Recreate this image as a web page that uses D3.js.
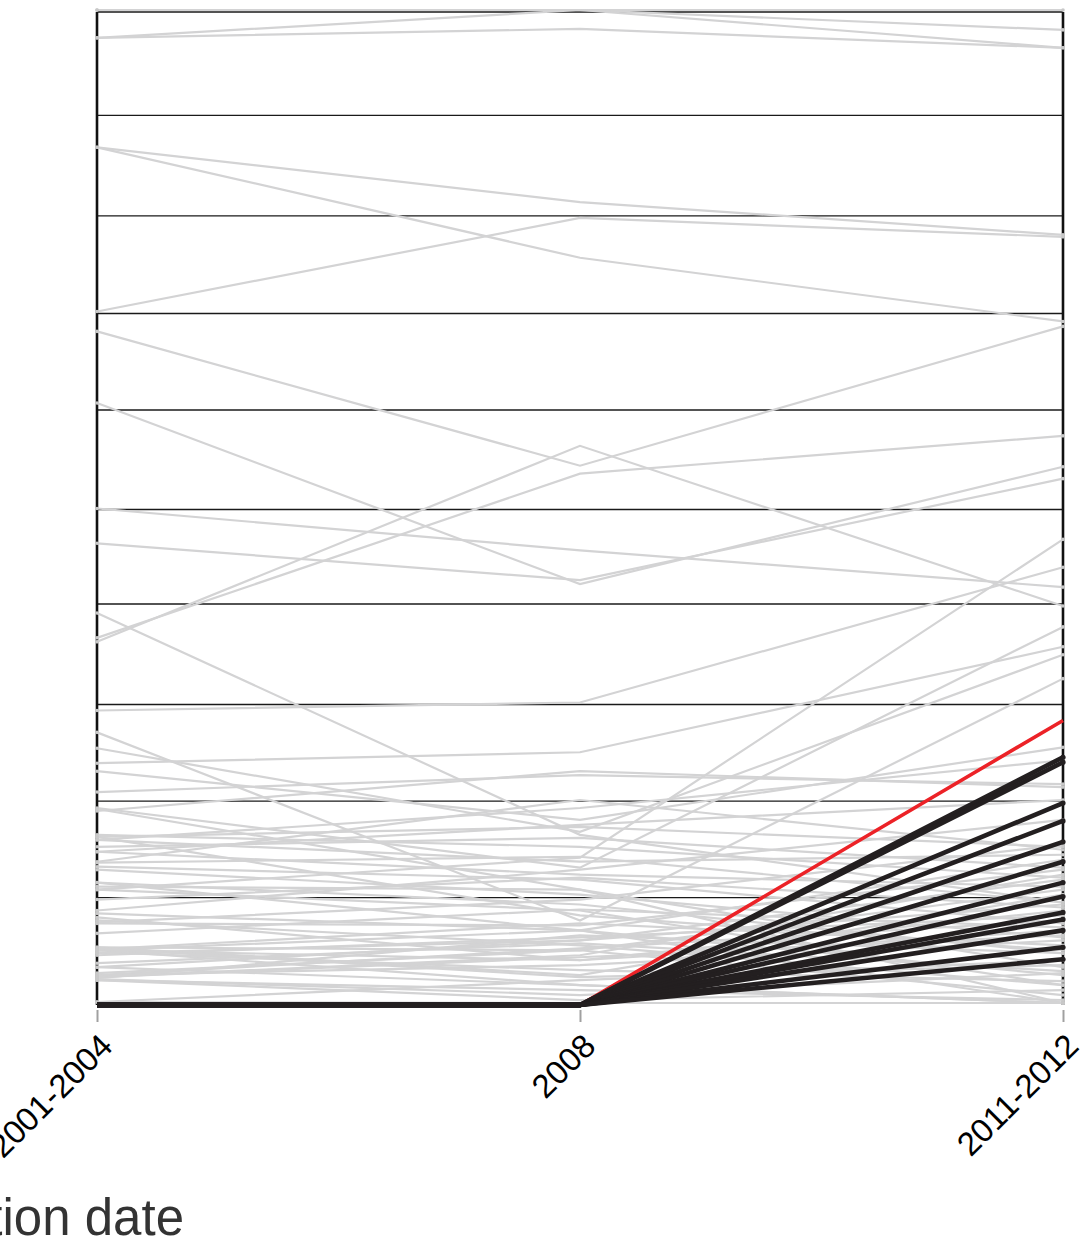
<!DOCTYPE html>
<html>
<head>
<meta charset="utf-8">
<script src="https://cdn.jsdelivr.net/npm/d3@7/dist/d3.min.js"></script>
<style>
  html, body { margin: 0; padding: 0; background: #fff; }
  svg { display: block; }
</style>
</head>
<body>
<div id="chart"></div>
<script>
// ---------- data ----------
const categories = ["2001-2004", "2008", "2011-2012"];
const axisTitle = "Publication date";
const gridValues = [10.8, 20.5, 30.2, 40.3, 49.8, 59.8, 69.5, 79.3, 89.4, 99.8];

// grey series: values at [2001-2004, 2008, 2011-2012]
const greyLines = [
  [100, 100, 100], [97.2, 100, 98.0], [100, 100, 96.2], [97.2, 98.1, 96.2],
  [86.2, 80.7, 77.4], [86.2, 75.1, 68.7], [69.7, 79.1, 77.2], [67.7, 54.2, 68.2],
  [60.5, 42.3, 54.1], [46.4, 42.7, 52.9], [49.9, 45.7, 42.0], [36.5, 56.2, 40.1],
  [36.9, 53.4, 57.2], [29.6, 30.4, 44.0], [39.4, 17.1, 10.3], [11.6, 14.8, 46.8],
  [24.3, 25.4, 36.0], [19.8, 13.8, 38.0], [27.4, 8.5, 32.8], [25.8, 17.4, 35.2],
  [23.5, 18.6, 25.9], [21.4, 23.1, 22.2], [19.5, 23.5, 21.9], [16.9, 17.9, 15.9],
  [16.6, 14.4, 15.1], [15.9, 16.8, 13.8], [15.4, 13.1, 11.9], [14.3, 14.9, 10.3],
  [13.9, 12.6, 8.2], [13.6, 11.1, 6.8], [12.3, 10.1, 5.2], [11.9, 11.6, 3.8],
  [11.6, 9.5, 2.0], [9.2, 7.5, 0.2], [8.5, 6.0, 2.0], [8.2, 8.0, 13.6],
  [5.8, 5.5, 11.6], [5.5, 4.5, 9.5], [5.2, 6.5, 12.6], [3.8, 2.0, 0.2],
  [3.0, 4.0, 6.5], [2.5, 1.5, 0.5], [0.3, 2.5, 4.5], [5.8, 3.0, 11.1],
  [5.5, 7.5, 14.6], [3.0, 5.7, 8.5], [2.5, 0.5, 1.5], [14.4, 20.6, 15.6],
  [12.3, 7.5, 3.0], [19.7, 11.6, 0.2], [16.9, 9.0, 5.5], [9.5, 13.6, 18.6],
  [8.8, 4.5, 7.5], [5.5, 2.0, 0.2], [2.8, 5.0, 13.1], [0.3, 0.2, 0.2],
  [8.3, 10.6, 16.1], [3.8, 6.5, 10.1], [16.6, 19.8, 24.6], [15.4, 18.1, 20.6],
  [17.1, 15.9, 12.8], [10.6, 12.8, 9.8], [7.2, 9.6, 7.8], [4.2, 6.2, 3.4],
  [5.6, 8.2, 6.0], [5.3, 3.5, 2.4], [5.0, 6.8, 9.0], [2.8, 4.8, 7.0],
  [2.6, 1.0, 3.2], [3.2, 5.5, 1.0], [5.7, 2.8, 4.0], [2.7, 7.0, 5.2]
];

// black series: 0 at the first two dates, then these values
const blackEnd = [24.9, 24.4, 20.3, 18.5, 16.4, 14.4, 12.3, 10.9, 9.3, 8.6, 7.5, 5.8, 4.6];
const blackStart = 0, blackMid = 0;
// highlighted (red) series
const redLine = [0, 0, 28.6];

// ---------- layout ----------
const W = 1088, H = 1246;
const x = d3.scalePoint().domain(categories).range([97, 1063]);
const y = d3.scaleLinear().domain([0, 100]).range([1005, 10]);

const svg = d3.select("#chart").append("svg")
  .attr("width", W).attr("height", H)
  .style("font-family", "'Liberation Sans', Arial, Helvetica, sans-serif");

svg.append("rect").attr("width", W).attr("height", H).attr("fill", "#fff");

// gridlines
svg.append("g").selectAll("line").data(gridValues).join("line")
  .attr("x1", x(categories[0])).attr("x2", x(categories[2]))
  .attr("y1", d => y(d)).attr("y2", d => y(d))
  .attr("stroke", "#1a1a1a").attr("stroke-width", 1.3);

// vertical axes at the outer dates
svg.append("g").selectAll("line").data([categories[0], categories[2]]).join("line")
  .attr("x1", d => x(d)).attr("x2", d => x(d))
  .attr("y1", y(0)).attr("y2", y(99.8))
  .attr("stroke", "#111").attr("stroke-width", 2.6);

const line = d3.line().x((d, i) => x(categories[i])).y(d => y(d));

// grey lines
const gGrey = svg.append("g");
gGrey.selectAll("path").data(greyLines).join("path")
  .attr("d", line).attr("fill", "none")
  .attr("stroke", "#d3d3d4").attr("stroke-width", 2.2);
gGrey.selectAll("circle")
  .data(greyLines.flatMap(l => [{v: l[0], i: 0}, {v: l[2], i: 2}]))
  .join("circle")
  .attr("cx", d => x(categories[d.i])).attr("cy", d => y(d.v))
  .attr("r", 1.8).attr("fill", "#c8c8c8");

// red line (drawn beneath the black ones, which cover its flat start)
svg.append("path").datum(redLine).attr("d", line)
  .attr("fill", "none").attr("stroke", "#ec2227").attr("stroke-width", 3.6);

// black lines
const blackLines = blackEnd.map(e => [blackStart, blackMid, e]);
const gBlack = svg.append("g");
gBlack.selectAll("path").data(blackLines).join("path")
  .attr("d", line).attr("fill", "none")
  .attr("stroke", "#231f20").attr("stroke-width", 4.6);
gBlack.selectAll("circle")
  .data(blackLines.map(l => l[2]))
  .join("circle")
  .attr("cx", x(categories[2])).attr("cy", d => y(d))
  .attr("r", 2.6).attr("fill", "#231f20");

// x axis
const xAxis = d3.axisBottom(x).tickSize(12).tickPadding(0);
const ax = svg.append("g").attr("transform", `translate(0, ${y(0) + 5})`).call(xAxis);
ax.select(".domain").remove();
ax.selectAll(".tick line").attr("stroke", "#a0a0a0").attr("stroke-width", 2);
ax.selectAll(".tick text")
  .attr("fill", "#000")
  .attr("font-size", 33)
  .attr("text-anchor", "end")
  .attr("dy", 0).attr("y", 0)
  .attr("transform", "translate(17, 38) rotate(-45)");

// axis title
svg.append("text")
  .attr("x", 184).attr("y", 1235)
  .attr("text-anchor", "end")
  .attr("font-size", 51)
  .attr("fill", "#333")
  .text(axisTitle);
</script>
</body>
</html>
